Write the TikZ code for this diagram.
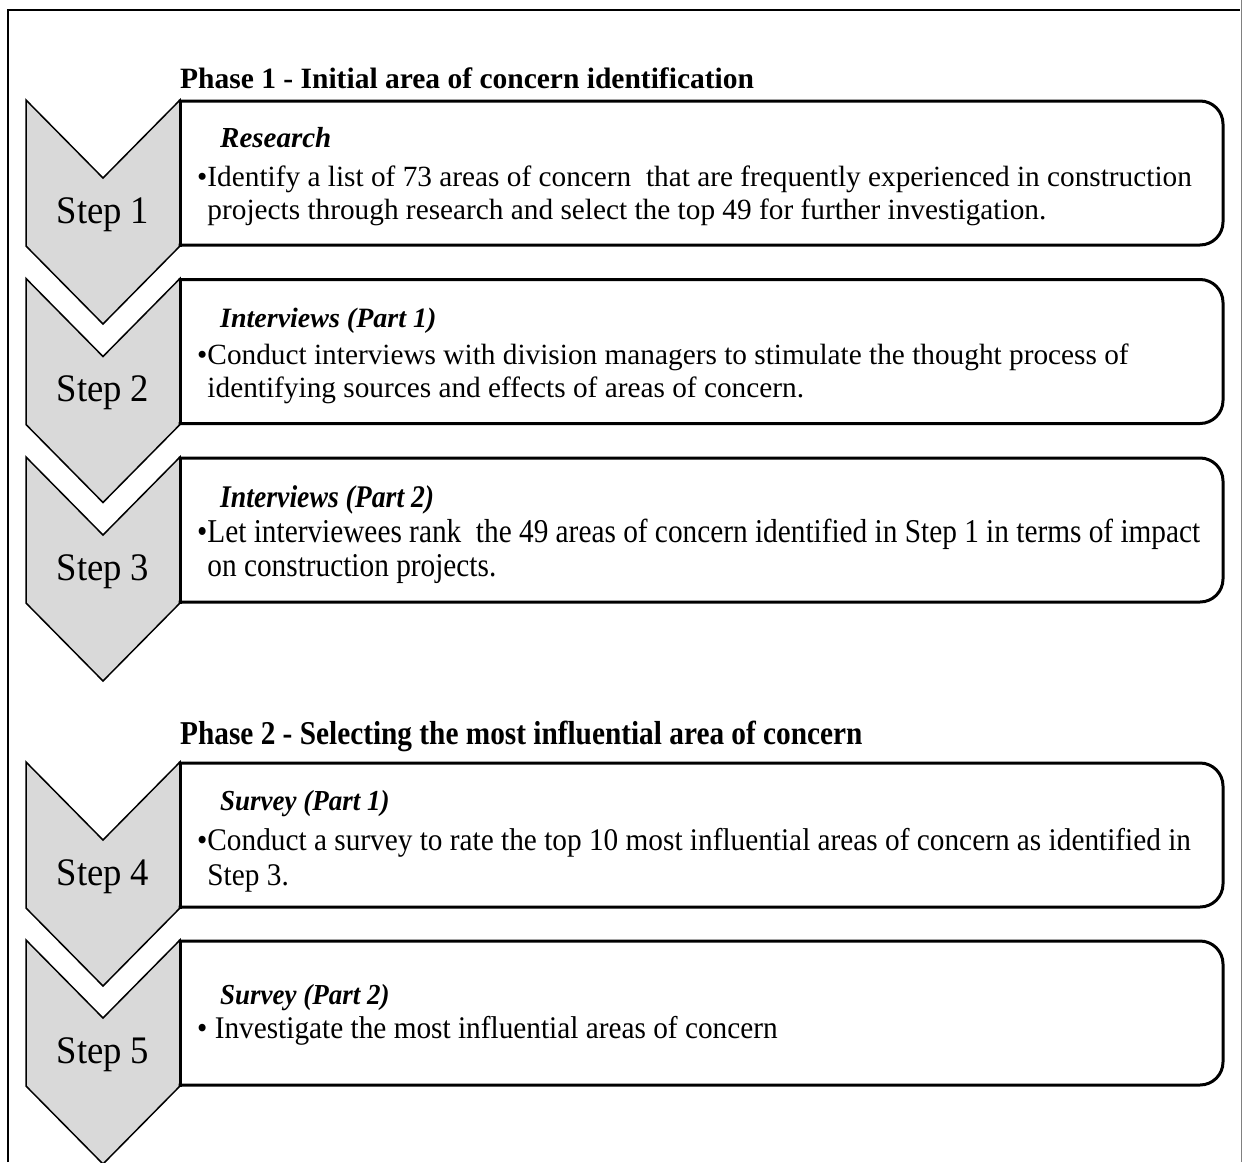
\documentclass[tikz,border=0pt]{standalone}
\usepackage{fontspec}
\setmainfont{Liberation Serif}
% narrower cuts of the same face, for the taller lettering
\newfontfamily\stepfam[FakeStretch=0.94]{Liberation Serif}
\newfontfamily\narrowfam[FakeStretch=0.88]{Liberation Serif}
\newfontfamily\slimfam[FakeStretch=0.93]{Liberation Serif}
\begin{document}
\begin{tikzpicture}[x=1pt,y=-1pt,
  chev/.style={draw=black, line width=1.5pt, fill={rgb,255:red,217;green,217;blue,217}, line join=miter},
  boxline/.style={draw=black, line width=3pt, line cap=rect},
  steplabel/.style={font=\stepfam\fontsize{39}{42}\selectfont, anchor=base, inner sep=0pt},
  phase/.style={font=\bfseries\fontsize{29.5}{32}\selectfont, anchor=base west, inner sep=0pt},
  phaseb/.style={font=\narrowfam\bfseries\fontsize{33.3}{36}\selectfont, anchor=base west, inner sep=0pt},
  head/.style={font=\bfseries\itshape\fontsize{29}{32}\selectfont, anchor=base west, inner sep=0pt},
  headi/.style={font=\bfseries\itshape\fontsize{28}{31}\selectfont, anchor=base west, inner sep=0pt},
  headn/.style={font=\narrowfam\bfseries\itshape\fontsize{31.5}{34}\selectfont, anchor=base west, inner sep=0pt},
  heads/.style={font=\slimfam\bfseries\itshape\fontsize{29}{32}\selectfont, anchor=base west, inner sep=0pt},
  body/.style={font=\fontsize{29.3}{32}\selectfont, anchor=base west, inner sep=0pt},
  bodyn/.style={font=\narrowfam\fontsize{33.3}{36}\selectfont, anchor=base west, inner sep=0pt},
  bodys/.style={font=\slimfam\fontsize{31.5}{34}\selectfont, anchor=base west, inner sep=0pt},
]
\useasboundingbox (0,0) rectangle (1242,1162);

% outer frame
\draw[line width=2pt] (8,1162) -- (8,10) -- (1240,10);
\draw[gray, line width=1pt] (1241,0) -- (1241,1162);

% one step: chevron, box and label; #1 = top edge, #2 = label text, #3 = name
\newcommand{\stepshape}[3]{%
  \draw[chev] (26,#1) -- (103,#1+78) -- (180,#1) -- (180,#1+146) -- (103,#1+224) -- (26,#1+146) -- cycle;
  \draw[boxline] (180,#1+1) -- (180,#1+145);
  \draw[boxline, rounded corners=23pt] (180,#1+1) -- (1223,#1+1) -- (1223,#1+145) -- (180,#1+145);
  \node[steplabel] (#3) at (103,#1+123) {#2};
}

\stepshape{100}{Step 1}{s1}
\stepshape{278.5}{Step 2}{s2}
\stepshape{457}{Step 3}{s3}
\stepshape{762}{Step 4}{s4}
\stepshape{940}{Step 5}{s5}

% phase titles
\node[phase] (p1) at (180,88) {Phase 1 - Initial area of concern identification};
\node[phaseb] (p2) at (180,744) {Phase 2 - Selecting the most influential area of concern};

% step 1
\node[head] (h1) at (220,147) {Research};
\node[body] (t1a) at (197,186) {•Identify a list of 73 areas of concern\ \ that are frequently experienced in construction};
\node[body] (t1b) at (197,219) {\hphantom{•}projects through research and select the top 49 for further investigation.};

% step 2
\node[headi] (h2) at (220,327) {Interviews (Part 1)};
\node[body] (t2a) at (197,364.5) {•Conduct interviews with division managers to stimulate the thought process of};
\node[body] (t2b) at (197,397.5) {\hphantom{•}identifying sources and effects of areas of concern.};

% step 3
\node[headn] (h3) at (220,507) {Interviews (Part 2)};
\node[bodyn] (t3a) at (197,542) {•Let interviewees rank\ \ the 49 areas of concern identified in Step 1 in terms of impact};
\node[bodyn] (t3b) at (197,576) {\hphantom{•}on construction projects.};

% step 4
\node[heads] (h4) at (220,810) {Survey (Part 1)};
\node[bodys] (t4a) at (197,850) {•Conduct a survey to rate the top 10 most influential areas of concern as identified in};
\node[bodys] (t4b) at (197,885) {\hphantom{•}Step 3.};

% step 5
\node[heads] (h5) at (220,1004) {Survey (Part 2)};
\node[bodys] (t5a) at (197,1038) {• Investigate the most influential areas of concern};
\end{tikzpicture}
\end{document}
